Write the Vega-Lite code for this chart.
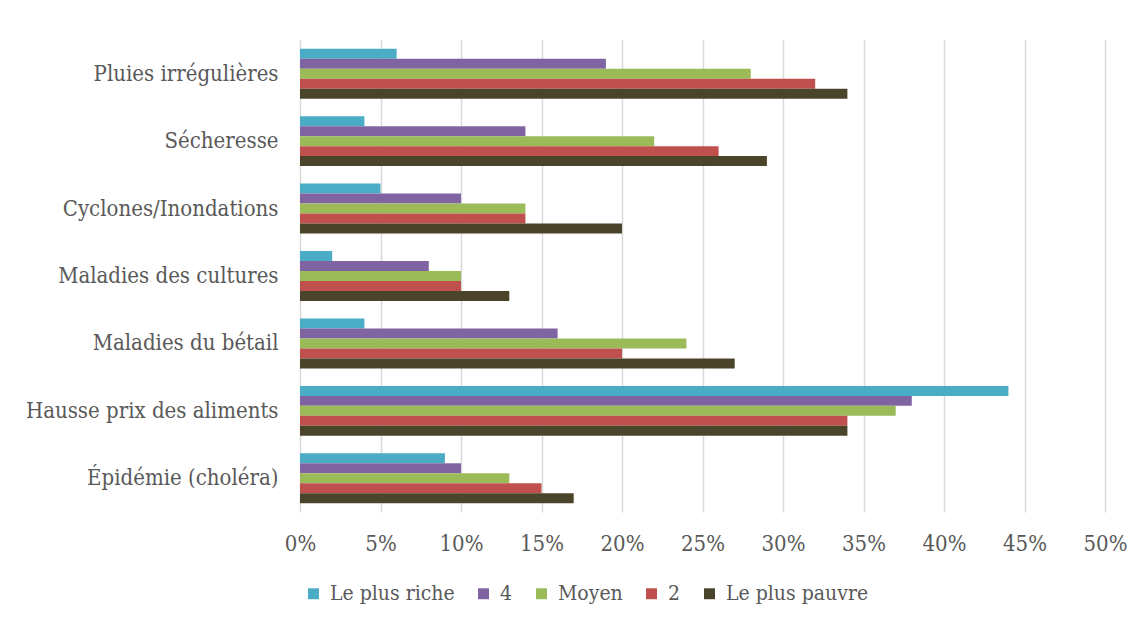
{
  "$schema": "https://vega.github.io/schema/vega-lite/v6.json",
  "width": 805,
  "height": 472,
  "autosize": {"type": "none"},
  "padding": {"left": 300, "top": 40, "right": 41, "bottom": 112},
  "background": "white",
  "data": {
    "values": [
      {"cat": "Pluies irrégulières", "grp": "Le plus riche", "v": 0.06},
      {"cat": "Pluies irrégulières", "grp": "4", "v": 0.19},
      {"cat": "Pluies irrégulières", "grp": "Moyen", "v": 0.28},
      {"cat": "Pluies irrégulières", "grp": "2", "v": 0.32},
      {"cat": "Pluies irrégulières", "grp": "Le plus pauvre", "v": 0.34},
      {"cat": "Sécheresse ", "grp": "Le plus riche", "v": 0.04},
      {"cat": "Sécheresse ", "grp": "4", "v": 0.14},
      {"cat": "Sécheresse ", "grp": "Moyen", "v": 0.22},
      {"cat": "Sécheresse ", "grp": "2", "v": 0.26},
      {"cat": "Sécheresse ", "grp": "Le plus pauvre", "v": 0.29},
      {"cat": "Cyclones/Inondations", "grp": "Le plus riche", "v": 0.05},
      {"cat": "Cyclones/Inondations", "grp": "4", "v": 0.10},
      {"cat": "Cyclones/Inondations", "grp": "Moyen", "v": 0.14},
      {"cat": "Cyclones/Inondations", "grp": "2", "v": 0.14},
      {"cat": "Cyclones/Inondations", "grp": "Le plus pauvre", "v": 0.20},
      {"cat": "Maladies des cultures", "grp": "Le plus riche", "v": 0.02},
      {"cat": "Maladies des cultures", "grp": "4", "v": 0.08},
      {"cat": "Maladies des cultures", "grp": "Moyen", "v": 0.10},
      {"cat": "Maladies des cultures", "grp": "2", "v": 0.10},
      {"cat": "Maladies des cultures", "grp": "Le plus pauvre", "v": 0.13},
      {"cat": "Maladies du bétail", "grp": "Le plus riche", "v": 0.04},
      {"cat": "Maladies du bétail", "grp": "4", "v": 0.16},
      {"cat": "Maladies du bétail", "grp": "Moyen", "v": 0.24},
      {"cat": "Maladies du bétail", "grp": "2", "v": 0.20},
      {"cat": "Maladies du bétail", "grp": "Le plus pauvre", "v": 0.27},
      {"cat": "Hausse prix des aliments", "grp": "Le plus riche", "v": 0.44},
      {"cat": "Hausse prix des aliments", "grp": "4", "v": 0.38},
      {"cat": "Hausse prix des aliments", "grp": "Moyen", "v": 0.37},
      {"cat": "Hausse prix des aliments", "grp": "2", "v": 0.34},
      {"cat": "Hausse prix des aliments", "grp": "Le plus pauvre", "v": 0.34},
      {"cat": "Épidémie (choléra)", "grp": "Le plus riche", "v": 0.09},
      {"cat": "Épidémie (choléra)", "grp": "4", "v": 0.10},
      {"cat": "Épidémie (choléra)", "grp": "Moyen", "v": 0.13},
      {"cat": "Épidémie (choléra)", "grp": "2", "v": 0.15},
      {"cat": "Épidémie (choléra)", "grp": "Le plus pauvre", "v": 0.17}
    ]
  },
  "mark": {"type": "bar"},
  "encoding": {
    "y": {
      "field": "cat",
      "type": "nominal",
      "sort": null,
      "scale": {"paddingInner": 0.26, "paddingOuter": 0.13},
      "axis": {
        "title": null,
        "domain": false,
        "ticks": false,
        "grid": false,
        "labelPadding": 22,
        "labelLimit": 0,
        "labelFont": "DejaVu Serif Condensed, DejaVu Serif",
        "labelFontSize": 22,
        "labelColor": "#595959"
      }
    },
    "yOffset": {
      "field": "grp",
      "type": "nominal",
      "sort": ["Le plus riche", "4", "Moyen", "2", "Le plus pauvre"],
      "scale": {"paddingInner": 0, "paddingOuter": 0}
    },
    "x": {
      "field": "v",
      "type": "quantitative",
      "scale": {"domain": [0, 0.5], "nice": false},
      "axis": {
        "title": null,
        "format": ".0%",
        "values": [0, 0.05, 0.1, 0.15, 0.2, 0.25, 0.3, 0.35, 0.4, 0.45, 0.5],
        "domain": false,
        "ticks": false,
        "grid": true,
        "gridColor": "#d9d9d9",
        "gridWidth": 1.5,
        "labelFlush": false,
        "labelPadding": 21,
        "labelFont": "DejaVu Serif Condensed, DejaVu Serif",
        "labelFontSize": 22,
        "labelColor": "#595959"
      }
    },
    "color": {
      "field": "grp",
      "type": "nominal",
      "sort": ["Le plus riche", "4", "Moyen", "2", "Le plus pauvre"],
      "scale": {
        "domain": ["Le plus riche", "4", "Moyen", "2", "Le plus pauvre"],
        "range": ["#4BACC6", "#8064A2", "#9BBB59", "#C0504D", "#4A452A"]
      },
      "legend": {
        "title": null,
        "orient": "none",
        "direction": "horizontal",
        "legendX": 3,
        "legendY": 543,
        "symbolType": "square",
        "symbolSize": 120,
        "symbolStrokeWidth": 0,
        "symbolOpacity": 1,
        "labelFont": "DejaVu Serif Condensed, DejaVu Serif",
        "labelFontSize": 21,
        "labelColor": "#595959",
        "labelOffset": 6,
        "columnPadding": 18
      }
    }
  },
  "config": {"view": {"stroke": null}}
}
